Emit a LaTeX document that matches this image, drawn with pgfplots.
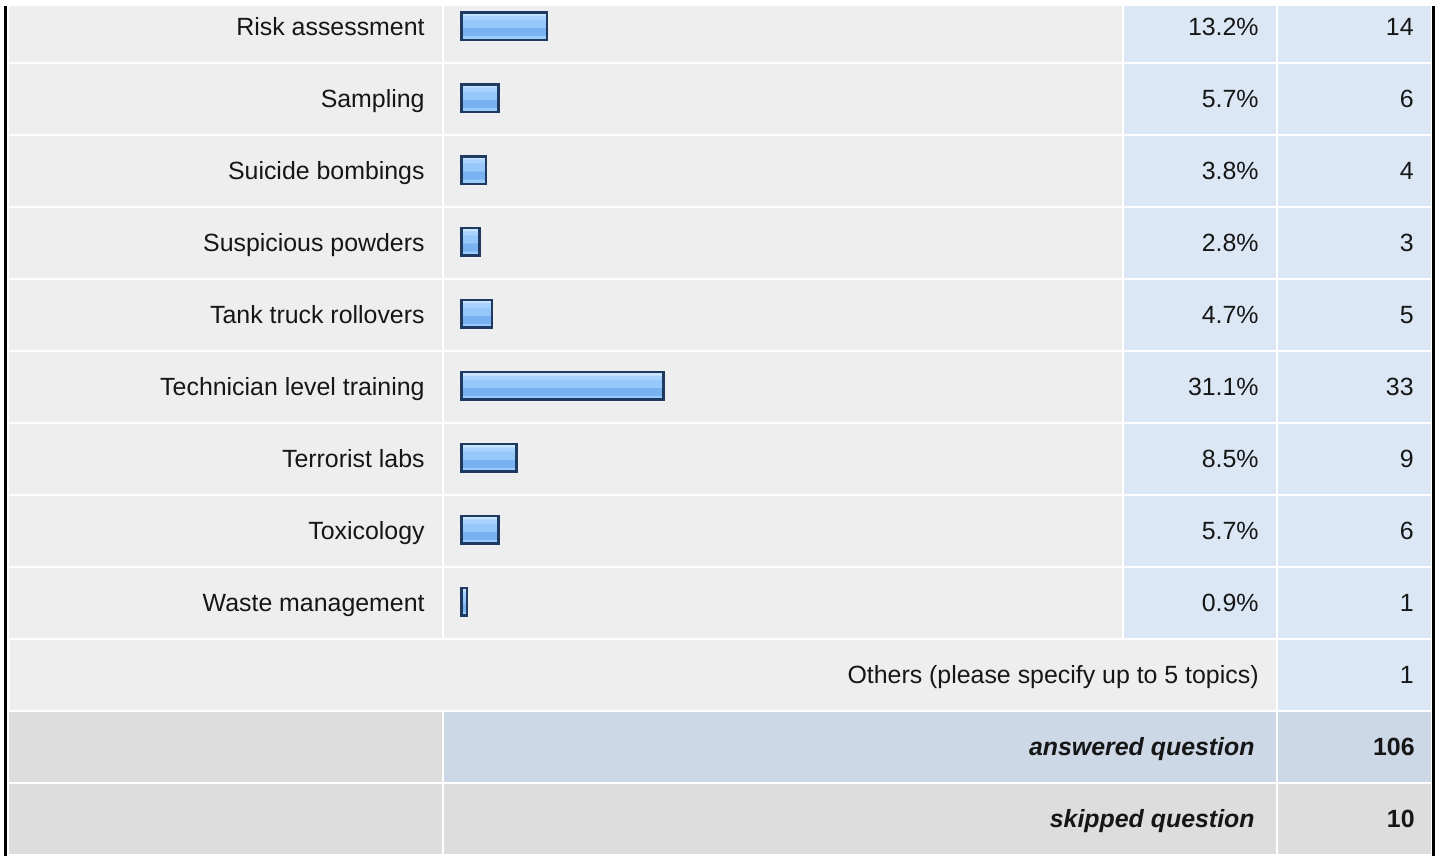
\documentclass[border=0pt]{standalone}
\usepackage{fontspec}
\setmainfont{Liberation Sans}
\usepackage{pgfplots}
\pgfplotsset{compat=1.18}
\usepackage{pgfplotstable}
\definecolor{cellgrey}{HTML}{EEEEEE}
\definecolor{cellblue}{HTML}{DCE7F5}
\definecolor{sumblue}{HTML}{CCD8E6}
\definecolor{sumgrey}{HTML}{DDDDDD}
\definecolor{barline}{HTML}{1F3A60}
\definecolor{txt}{HTML}{161616}
\definecolor{gA}{HTML}{9CCBFD}
\definecolor{gB}{HTML}{78B2F0}
\definecolor{gC}{HTML}{98C7FA}
\definecolor{gD}{HTML}{A8D3FF}
\definecolor{gE}{HTML}{CAE4FF}
\pgfdeclareverticalshading{glossy}{100bp}{color(0bp)=(gA); color(25bp)=(gA); color(32.5bp)=(gA); color(32.5bp)=(gB); color(47.5bp)=(gB); color(47.5bp)=(gC); color(62.5bp)=(gC); color(62.5bp)=(gD); color(70bp)=(gD); color(70bp)=(gE); color(75bp)=(gE); color(100bp)=(gE)}

\pgfplotstableread{
pct count
13.2 14
5.7 6
3.8 4
2.8 3
4.7 5
31.1 33
8.5 9
5.7 6
0.9 1
}\datatable

\begin{document}
\begin{tikzpicture}[x=0.5pt,y=-0.5pt,font=\fontsize{12.45pt}{14pt}\selectfont]
\path[use as bounding box, fill=white] (0,0) rectangle (1442,856);
\foreach \k in {0,...,8}{
  \pgfmathsetmacro\rtop{max(6,-8+72*\k)}
  \pgfmathsetmacro\rbot{62+72*\k}
  \fill[cellgrey] (9,\rtop) rectangle (442,\rbot);
  \fill[cellgrey] (444,\rtop) rectangle (1122,\rbot);
  \fill[cellblue] (1124,\rtop) rectangle (1276,\rbot);
  \fill[cellblue] (1278,\rtop) rectangle (1431,\rbot);
}
\fill[cellgrey] (10,640) rectangle (1276,710);
\fill[cellblue] (1278,640) rectangle (1431,710);
\fill[sumgrey] (9,712) rectangle (442,782);
\fill[sumblue] (444,712) rectangle (1276,782);
\fill[sumblue] (1278,712) rectangle (1431,782);
\fill[sumgrey] (9,784) rectangle (442,854);
\fill[sumgrey] (444,784) rectangle (1276,854);
\fill[sumgrey] (1278,784) rectangle (1431,854);
\fill[black] (4,6) rectangle (7,856);
\fill[black] (1432,6) rectangle (1435,856);

\foreach \k/\lab/\p/\c in {0/Risk assessment/13.2/14,1/Sampling/5.7/6,2/Suicide bombings/3.8/4,3/Suspicious powders/2.8/3,4/Tank truck rollovers/4.7/5,5/Technician level training/31.1/33,6/Terrorist labs/8.5/9,7/Toxicology/5.7/6,8/Waste management/0.9/1}{
  \node[anchor=base east,inner sep=0,text=txt] at (425,{35.5+72*\k}) {\lab};
  \node[anchor=base east,inner sep=0,text=txt] at (1259,{35.5+72*\k}) {\p\%};
  \node[anchor=base east,inner sep=0,text=txt] at (1414,{35.5+72*\k}) {\c};
}
\node[anchor=base east,inner sep=0,text=txt] at (1259,683.5) {Others (please specify up to 5 topics)};
\node[anchor=base east,inner sep=0,text=txt] at (1414,683.5) {1};
\node[anchor=base east,inner sep=0,text=txt] at (1255,755.5) {\bfseries\itshape answered question};
\node[anchor=base east,inner sep=0,text=txt] at (1415,755.5) {\bfseries 106};
\node[anchor=base east,inner sep=0,text=txt] at (1255,827.5) {\bfseries\itshape skipped question};
\node[anchor=base east,inner sep=0,text=txt] at (1415,827.5) {\bfseries 10};

\begin{axis}[at={(230.625pt,5pt)},anchor=north west,scale only axis,
  width=325pt,height=324pt,xmin=0,xmax=100,ymin=-0.5,ymax=8.5,
  y dir=reverse,hide axis,clip=false]
\pgfplotsinvokeforeach{0,...,8}{
\addplot[xbar,bar width=13.75pt,bar shift=0pt,draw=barline,line width=1.25pt,shade,shading=glossy,
  restrict y to domain=#1:#1]
  table[x=pct,y expr=\coordindex] {\datatable};
}
\end{axis}
\end{tikzpicture}
\end{document}
